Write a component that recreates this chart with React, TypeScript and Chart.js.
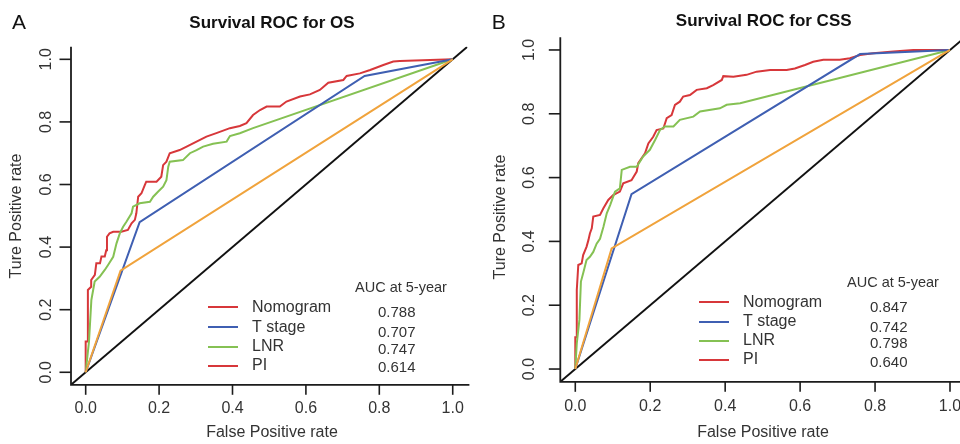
import React, { useEffect, useRef } from "react";
import { Chart, registerables } from "chart.js";

Chart.register(...registerables);

// ---------- data ----------
const seriesNames = ["Nomogram", "T stage", "LNR", "PI"];
const aucOS = ["0.788", "0.707", "0.747", "0.614"];
const aucCSS = ["0.847", "0.742", "0.798", "0.640"];
const axisTicks = [0, 0.2, 0.4, 0.6, 0.8, 1.0];
const axisTickLabels = ["0.0", "0.2", "0.4", "0.6", "0.8", "1.0"];
const diagX = [-0.04, 1.04];
const diagY = [-0.04, 1.04];

// Panel A (OS)
const osNomoFpr = [0, 0, 0.006, 0.006, 0.015, 0.015, 0.025, 0.029, 0.039, 0.043, 0.052, 0.056, 0.058, 0.065, 0.075, 0.097, 0.115, 0.125, 0.134, 0.138, 0.143, 0.152, 0.161, 0.165, 0.193, 0.206, 0.211, 0.22, 0.229, 0.256, 0.275, 0.302, 0.329, 0.356, 0.393, 0.42, 0.438, 0.456, 0.475, 0.493, 0.529, 0.547, 0.584, 0.611, 0.638, 0.661, 0.702, 0.711, 0.747, 0.775, 0.811, 0.838, 0.856, 1];
const osNomoTpr = [0, 0.098, 0.098, 0.263, 0.273, 0.295, 0.311, 0.348, 0.348, 0.37, 0.37, 0.39, 0.433, 0.444, 0.449, 0.449, 0.455, 0.476, 0.487, 0.508, 0.561, 0.572, 0.598, 0.609, 0.609, 0.625, 0.662, 0.673, 0.7, 0.71, 0.721, 0.737, 0.753, 0.764, 0.78, 0.787, 0.796, 0.822, 0.838, 0.849, 0.849, 0.865, 0.881, 0.888, 0.902, 0.925, 0.934, 0.947, 0.955, 0.966, 0.982, 0.993, 0.995, 1];
const osTFpr = [0, 0.147, 0.76, 1];
const osTTpr = [0, 0.48, 0.947, 1];
const osLnrFpr = [0, 0.009, 0.0155, 0.0245, 0.038, 0.052, 0.061, 0.075, 0.084, 0.093, 0.102, 0.111, 0.125, 0.129, 0.147, 0.175, 0.184, 0.197, 0.211, 0.22, 0.225, 0.229, 0.265, 0.284, 0.302, 0.32, 0.347, 0.384, 0.393, 0.42, 0.456, 1];
const osLnrTpr = [0, 0.098, 0.231, 0.29, 0.305, 0.327, 0.343, 0.369, 0.412, 0.444, 0.465, 0.481, 0.508, 0.529, 0.54, 0.545, 0.561, 0.577, 0.593, 0.614, 0.657, 0.673, 0.678, 0.7, 0.71, 0.721, 0.73, 0.737, 0.755, 0.764, 0.78, 1];
const osPiFpr = [0, 0.095, 1];
const osPiTpr = [0, 0.325, 1];

// Panel B (CSS)
const cssNomoFpr = [0, 0, 0.004, 0.004, 0.008, 0.017, 0.021, 0.03, 0.035, 0.039, 0.044, 0.048, 0.066, 0.075, 0.088, 0.101, 0.119, 0.128, 0.15, 0.164, 0.168, 0.186, 0.195, 0.208, 0.217, 0.235, 0.244, 0.257, 0.266, 0.279, 0.288, 0.306, 0.324, 0.351, 0.368, 0.391, 0.395, 0.422, 0.457, 0.484, 0.52, 0.564, 0.586, 0.613, 0.635, 0.662, 0.706, 0.733, 0.76, 0.795, 0.849, 0.902, 1];
const cssNomoTpr = [0, 0.1, 0.1, 0.248, 0.326, 0.331, 0.357, 0.383, 0.404, 0.425, 0.441, 0.478, 0.483, 0.504, 0.53, 0.545, 0.556, 0.582, 0.592, 0.619, 0.645, 0.676, 0.707, 0.728, 0.749, 0.754, 0.786, 0.796, 0.828, 0.838, 0.854, 0.859, 0.875, 0.88, 0.89, 0.906, 0.918, 0.916, 0.922, 0.932, 0.937, 0.937, 0.942, 0.953, 0.963, 0.969, 0.969, 0.974, 0.984, 0.99, 0.995, 1.0, 1];
const cssTFpr = [0, 0.15, 0.76, 1];
const cssTTpr = [0, 0.548, 0.987, 1];
const cssLnrFpr = [0, 0.004, 0.011, 0.015, 0.021, 0.03, 0.039, 0.048, 0.057, 0.066, 0.075, 0.084, 0.093, 0.106, 0.119, 0.124, 0.146, 0.164, 0.181, 0.199, 0.213, 0.226, 0.239, 0.262, 0.279, 0.315, 0.333, 0.386, 0.404, 0.44, 1];
const cssLnrTpr = [0, 0.08, 0.154, 0.274, 0.3, 0.342, 0.352, 0.367, 0.393, 0.408, 0.445, 0.488, 0.514, 0.556, 0.566, 0.624, 0.634, 0.634, 0.666, 0.687, 0.718, 0.749, 0.76, 0.76, 0.781, 0.791, 0.807, 0.817, 0.828, 0.833, 1];
const cssPiFpr = [0, 0.097, 1];
const cssPiTpr = [0, 0.378, 1];

const RED = "#d7373a";
const BLUE = "#3f5fb2";
const GREEN = "#85c153";
const ORANGE = "#f0a33c";
const legendColors = [RED, BLUE, GREEN, RED];

const FONT = "'Liberation Sans', Arial, Helvetica, sans-serif";
const TEXT = "#333";

const zip = (xs: number[], ys: number[]) => xs.map((x, i) => ({ x, y: ys[i] }));

type PanelCfg = {
  left: number;
  padding: { left: number; right: number; top: number; bottom: number };
  xmax: number;
  letter: string;
  letterX: number;
  title: string;
  titleX: number;
  titleY: number;
  yLabX: number;
  xLabY: number;
  xTitleX: number;
  xTitleY: number;
  yTitleX: number;
  yTitleY: number;
  legLineX: [number, number];
  legLineY: number[];
  legLabX: number;
  legLabY: number[];
  aucHeadX: number;
  aucHeadY: number;
  aucX: number;
  aucY: number[];
  auc: string[];
  nomo: [number[], number[]];
  tst: [number[], number[]];
  lnr: [number[], number[]];
  pi: [number[], number[]];
};

const panels: PanelCfg[] = [
  {
    left: 0,
    padding: { left: 71, right: 12.6, top: 46.8, bottom: 59.2 },
    xmax: 1.04,
    letter: "A",
    letterX: 12,
    title: "Survival ROC for OS",
    titleX: 272,
    titleY: 23,
    yLabX: 47,
    xLabY: 409,
    xTitleX: 272,
    xTitleY: 433,
    yTitleX: 17,
    yTitleY: 216,
    legLineX: [208, 238],
    legLineY: [307, 327, 347, 366],
    legLabX: 252,
    legLabY: [308, 328, 347, 366],
    aucHeadX: 355,
    aucHeadY: 288,
    aucX: 378,
    aucY: [313, 333, 350, 368],
    auc: aucOS,
    nomo: [osNomoFpr, osNomoTpr],
    tst: [osTFpr, osTTpr],
    lnr: [osLnrFpr, osLnrTpr],
    pi: [osPiFpr, osPiTpr],
  },
  {
    left: 480,
    padding: { left: 80.3, right: 0, top: 37.2, bottom: 62.2 },
    xmax: 1.0267,
    letter: "B",
    letterX: 11.7,
    title: "Survival ROC for CSS",
    titleX: 283.7,
    titleY: 21,
    yLabX: 50,
    xLabY: 406.7,
    xTitleX: 283,
    xTitleY: 433,
    yTitleX: 21,
    yTitleY: 217,
    legLineX: [219, 249],
    legLineY: [302, 322, 341, 360],
    legLabX: 263,
    legLabY: [303, 322, 341, 360],
    aucHeadX: 367,
    aucHeadY: 283,
    aucX: 390,
    aucY: [308, 328, 344, 363],
    auc: aucCSS,
    nomo: [cssNomoFpr, cssNomoTpr],
    tst: [cssTFpr, cssTTpr],
    lnr: [cssLnrFpr, cssLnrTpr],
    pi: [cssPiFpr, cssPiTpr],
  },
];

function makePlugin(p: PanelCfg) {
  return {
    id: "rStyle" + p.letter,
    afterDraw(chart: any) {
      const { ctx, chartArea: ca } = chart;
      const xs = chart.scales.x;
      const ys = chart.scales.y;
      ctx.save();
      // axes box (L shaped)
      ctx.strokeStyle = "#1c1c1c";
      ctx.lineWidth = 1.8;
      ctx.lineCap = "butt";
      ctx.beginPath();
      ctx.moveTo(ca.left, ca.top);
      ctx.lineTo(ca.left, ca.bottom);
      ctx.lineTo(ca.right + 2, ca.bottom);
      ctx.stroke();
      // ticks
      ctx.lineWidth = 1.6;
      ctx.fillStyle = TEXT;
      ctx.font = `16px ${FONT}`;
      axisTicks.forEach((v, i) => {
        const px = xs.getPixelForValue(v);
        ctx.beginPath();
        ctx.moveTo(px, ca.bottom);
        ctx.lineTo(px, ca.bottom + 10);
        ctx.stroke();
        ctx.textAlign = "center";
        ctx.textBaseline = "middle";
        ctx.fillText(axisTickLabels[i], px, p.xLabY);

        const py = ys.getPixelForValue(v);
        ctx.beginPath();
        ctx.moveTo(ca.left, py);
        ctx.lineTo(ca.left - 11.5, py);
        ctx.stroke();
        ctx.save();
        ctx.translate(p.yLabX, py);
        ctx.rotate(-Math.PI / 2);
        ctx.fillText(axisTickLabels[i], 0, 0);
        ctx.restore();
      });
      // axis titles
      ctx.fillStyle = TEXT;
      ctx.font = `16px ${FONT}`;
      ctx.textAlign = "center";
      ctx.textBaseline = "middle";
      ctx.fillText("False Positive rate", p.xTitleX, p.xTitleY);
      ctx.save();
      ctx.translate(p.yTitleX, p.yTitleY);
      ctx.rotate(-Math.PI / 2);
      ctx.fillText("Ture Positive rate", 0, 0);
      ctx.restore();
      // title
      ctx.fillStyle = "#111";
      ctx.font = `bold 17px ${FONT}`;
      ctx.fillText(p.title, p.titleX, p.titleY);
      // panel letter
      ctx.font = `21px ${FONT}`;
      ctx.textAlign = "left";
      ctx.textBaseline = "alphabetic";
      ctx.fillText(p.letter, p.letterX, 28.5);
      // legend
      ctx.lineWidth = 2;
      seriesNames.forEach((name, i) => {
        ctx.strokeStyle = legendColors[i];
        ctx.beginPath();
        ctx.moveTo(p.legLineX[0], p.legLineY[i]);
        ctx.lineTo(p.legLineX[1], p.legLineY[i]);
        ctx.stroke();
        ctx.fillStyle = TEXT;
        ctx.font = `16px ${FONT}`;
        ctx.textAlign = "left";
        ctx.textBaseline = "middle";
        ctx.fillText(name, p.legLabX, p.legLabY[i]);
        ctx.font = `15px ${FONT}`;
        ctx.fillText(p.auc[i], p.aucX, p.aucY[i]);
      });
      ctx.font = `14.5px ${FONT}`;
      ctx.fillText("AUC at 5-year", p.aucHeadX, p.aucHeadY);
      ctx.restore();
    },
  };
}

function Panel({ p }: { p: PanelCfg }) {
  const ref = useRef<HTMLCanvasElement | null>(null);
  useEffect(() => {
    if (!ref.current) return;
    const line = (label: string, data: any, color: string, width = 2) => ({
      label,
      data,
      borderColor: color,
      backgroundColor: color,
      borderWidth: width,
      pointRadius: 0,
      showLine: true,
      tension: 0,
      fill: false,
    });
    const chart = new Chart(ref.current, {
      type: "scatter",
      data: {
        datasets: [
          line("PI", zip(p.pi[0], p.pi[1]), ORANGE),
          line("T stage", zip(p.tst[0], p.tst[1]), BLUE),
          line("LNR", zip(p.lnr[0], p.lnr[1]), GREEN),
          line("Nomogram", zip(p.nomo[0], p.nomo[1]), RED),
          line("ref", zip(diagX, diagY), "#111", 1.9),
        ],
      },
      options: {
        animation: false,
        responsive: false,
        devicePixelRatio: 1,
        layout: { padding: p.padding },
        plugins: { legend: { display: false }, tooltip: { enabled: false }, title: { display: false } },
        scales: {
          x: { type: "linear", min: -0.04, max: p.xmax, display: false },
          y: { type: "linear", min: -0.04, max: 1.04, display: false },
        },
      },
      plugins: [makePlugin(p)],
    });
    return () => chart.destroy();
  }, [p]);
  return (
    <canvas
      ref={ref}
      width={480}
      height={444}
      style={{ position: "absolute", left: p.left, top: 0, width: 480, height: 444 }}
    />
  );
}

export default function App() {
  return (
    <div style={{ position: "absolute", left: 0, top: 0, width: 960, height: 444, background: "#fff", overflow: "hidden" }}>
      {panels.map((p) => (
        <Panel key={p.letter} p={p} />
      ))}
    </div>
  );
}
